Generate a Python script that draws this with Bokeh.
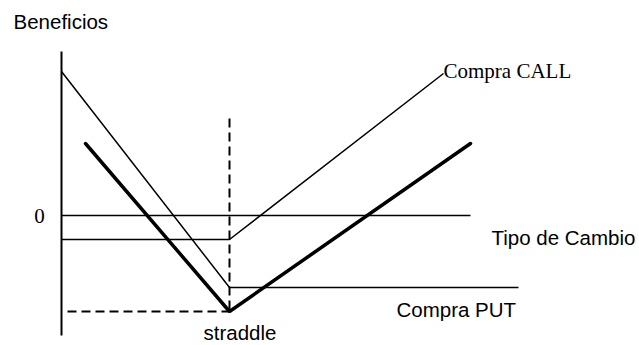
from bokeh.plotting import figure
from bokeh.models import Range1d, ColumnDataSource
from bokeh.core.properties import value
from bokeh.embed import file_html
from bokeh.resources import INLINE

# ---- data (x: tipo de cambio, y: beneficios; arbitrary units) ----
strike = 168
call_x = [0, 168, 382]
call_y = [-24, -24, 142]
put_x = [0, 168, 457]
put_y = [144, -72, -72]
straddle_x = [24, 168, 409]
straddle_y = [72, -96, 72]
zero_x = [0, 409]
zero_y = [0, 0]
axis_x = [0, 0]
axis_y = [164, -120]
guide_v_x = [168, 168]
guide_v_y = [97, -96]
guide_h_x = [6, 168]
guide_h_y = [-96, -96]

sans_labels = ["Beneficios", "Tipo de Cambio", "Compra PUT", "straddle"]
sans_lx = [-48, 430, 335, 142]
sans_ly = [194, -22, -94, -117]
serif_labels = ["Compra CALL", "0"]
serif_lx = [382, -22]
serif_ly = [145, 0]

W, H = 639, 345
p = figure(width=W, height=H, output_backend="svg", toolbar_location=None,
           x_axis_type=None, y_axis_type=None, title=None, min_border=0,
           x_range=Range1d(-61, -61 + W), y_range=Range1d(215 - H, 215))
p.grid.visible = False
p.outline_line_color = None
p.background_fill_color = "white"
p.border_fill_color = "white"

p.line(axis_x, axis_y, line_color="black", line_width=2)
p.line(zero_x, zero_y, line_color="black", line_width=1.5)
p.line(call_x, call_y, line_color="black", line_width=1.5)
p.line(put_x, put_y, line_color="black", line_width=1.5)
p.line(straddle_x, straddle_y, line_color="black", line_width=3.5, line_cap="round")
p.line(guide_v_x, guide_v_y, line_color="black", line_width=2, line_dash="9 5")
p.line(guide_h_x, guide_h_y, line_color="black", line_width=2, line_dash="9 5")

src1 = ColumnDataSource(dict(x=sans_lx, y=sans_ly, t=sans_labels))
p.text(x="x", y="y", text="t", source=src1, text_font=value("Liberation Sans"),
       text_font_size="20.5px", text_color="black", text_align="left",
       text_baseline="alphabetic")
src2 = ColumnDataSource(dict(x=serif_lx, y=serif_ly, t=serif_labels,
                             a=["left", "center"]))
p.text(x="x", y="y", text="t", text_align="a", source=src2,
       text_font=value("Liberation Serif"), text_font_size="21px",
       text_color="black", text_baseline="alphabetic")

open("out.html", "w").write(file_html(p, INLINE))
